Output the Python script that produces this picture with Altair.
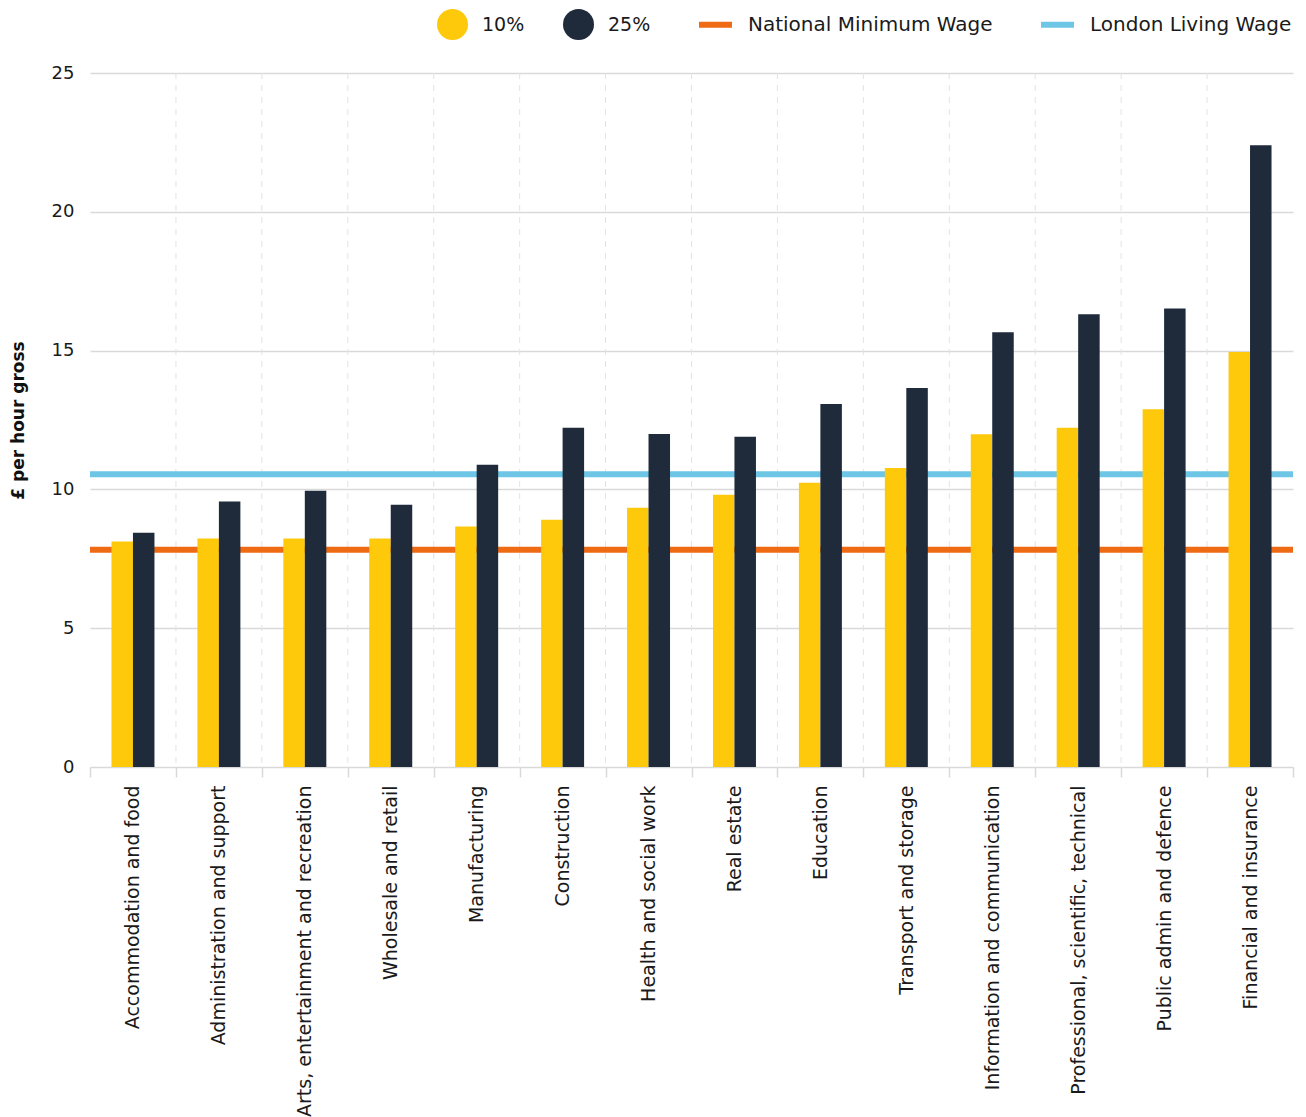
import altair as alt
import pandas as pd

categories = [
    "Accommodation and food",
    "Administration and support",
    "Arts, entertainment and recreation",
    "Wholesale and retail",
    "Manufacturing",
    "Construction",
    "Health and social work",
    "Real estate",
    "Education",
    "Transport and storage",
    "Information and communication",
    "Professional, scientific, technical",
    "Public admin and defence",
    "Financial and insurance",
]
p10 = [8.12, 8.23, 8.23, 8.23, 8.66, 8.91, 9.34, 9.81, 10.24, 10.77, 11.99, 12.22, 12.89, 14.95]
p25 = [8.44, 9.56, 9.95, 9.45, 10.89, 12.22, 12.00, 11.90, 13.08, 13.65, 15.66, 16.31, 16.52, 22.40]
series_names = ["10%", "25%"]
series_colors = ["#FEC90A", "#1F2A3B"]
wage_names = ["National Minimum Wage", "London Living Wage"]
wage_values = [7.83, 10.55]
wage_colors = ["#EE6A13", "#6EC6E6"]
y_ticks = [0, 5, 10, 15, 20, 25]

rows = []
for c, a, b in zip(categories, p10, p25):
    rows.append({"category": c, "series": series_names[0], "value": a})
    rows.append({"category": c, "series": series_names[1], "value": b})
bars_df = pd.DataFrame(rows)
wages_df = pd.DataFrame({"name": wage_names, "value": wage_values})
sep_df = pd.DataFrame({"category": categories[1:]})

FONT = "DejaVu Sans"
TEXT = "#1a1a1a"

y_scale = alt.Scale(domain=[0, 25], nice=False)
y_axis = alt.Axis(
    values=y_ticks,
    title="£ per hour gross",
    titleFont=FONT,
    titleFontSize=17,
    titleFontWeight="bold",
    titleColor="#111111",
    titlePadding=24,
    labelFont=FONT,
    labelFontSize=18,
    labelColor=TEXT,
    labelPadding=16,
    ticks=False,
    domain=False,
    grid=True,
    gridColor="#d9d9d9",
    gridWidth=1.5,
)
x_scale = alt.Scale(paddingInner=0, paddingOuter=0)
x_axis = alt.Axis(
    title=None,
    labelAngle=-90,
    labelFont=FONT,
    labelFontSize=19,
    labelColor=TEXT,
    labelLimit=500,
    labelPadding=8,
    tickBand="extent",
    ticks=True,
    tickSize=10,
    tickColor="#d9d9d9",
    tickWidth=1.5,
    domain=False,
    grid=False,
)

separators = alt.Chart(sep_df).mark_rule(
    color="#e3e3e3", strokeWidth=1, strokeDash=[6, 6]
).encode(
    x=alt.X("category:N", sort=categories, bandPosition=0, scale=x_scale, axis=x_axis),
)

wages = alt.Chart(wages_df).mark_rule(strokeWidth=6).encode(
    y=alt.Y("value:Q", scale=y_scale, axis=y_axis),
    stroke=alt.Stroke(
        "name:N",
        sort=wage_names,
        scale=alt.Scale(domain=wage_names, range=wage_colors),
        legend=alt.Legend(
            title=None,
            orient="none",
            direction="horizontal",
            legendX=606,
            legendY=-68,
            symbolType="stroke",
            symbolStrokeWidth=6,
            symbolSize=1089,
            labelFont=FONT,
            labelFontSize=20,
            labelColor=TEXT,
            labelLimit=500,
            labelOffset=13,
            columnPadding=36,
        ),
    ),
)

bars = alt.Chart(bars_df).mark_bar(width=21.5).encode(
    x=alt.X("category:N", sort=categories, scale=x_scale, axis=x_axis),
    xOffset=alt.XOffset(
        "series:N", sort=series_names, scale=alt.Scale(paddingInner=0, paddingOuter=1)
    ),
    y=alt.Y("value:Q", scale=y_scale, axis=y_axis),
    fill=alt.Fill(
        "series:N",
        sort=series_names,
        scale=alt.Scale(domain=series_names, range=series_colors),
        legend=alt.Legend(
            title=None,
            orient="none",
            direction="horizontal",
            legendX=347,
            legendY=-64,
            symbolType="circle",
            symbolSize=961,
            symbolStrokeWidth=0,
            labelFont=FONT,
            labelFontSize=19,
            labelColor=TEXT,
            labelLimit=500,
            labelOffset=14,
            columnPadding=38,
        ),
    ),
)

chart = (
    alt.layer(separators, wages, bars)
    .properties(
        width=1203,
        height=694,
        autosize=alt.AutoSizeParams(type="none"),
        padding={"left": 90, "top": 73, "right": 13, "bottom": 350},
        background="#ffffff",
    )
    .configure_view(stroke=None)
)

chart.save("out.html", embed_options={"renderer": "svg", "actions": False})
